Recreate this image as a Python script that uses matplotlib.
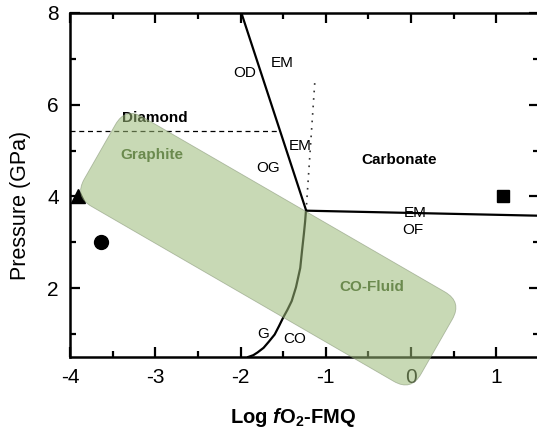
import numpy as np
import matplotlib
matplotlib.use('Agg')
import matplotlib.pyplot as plt
from matplotlib.patches import FancyBboxPatch
from matplotlib.transforms import Affine2D

plt.rcParams['font.family'] = ['Liberation Sans', 'DejaVu Sans']
plt.rcParams['axes.unicode_minus'] = False
plt.rcParams['mathtext.fontset'] = 'custom'
plt.rcParams['mathtext.rm'] = 'Liberation Sans:bold'
plt.rcParams['mathtext.it'] = 'Liberation Sans:italic:bold'
plt.rcParams['mathtext.bf'] = 'Liberation Sans:bold'

# phase boundaries (log fO2-FMQ, GPa)
em_od_x = [-1.99, -1.23]
em_od_y = [8.0, 3.69]
em_of_x = [-1.23, 1.5]
em_of_y = [3.69, 3.58]
dot_x = [-1.13, -1.23]
dot_y = [6.47, 3.72]
gd_y = 5.42
gd_xmax = -1.535
gco_x = [-1.91, -1.85, -1.80, -1.73, -1.67, -1.60, -1.55, -1.50, -1.45, -1.40,
         -1.35, -1.30, -1.28, -1.257, -1.243, -1.233]
gco_y = [0.50, 0.54, 0.60, 0.70, 0.83, 0.99, 1.17, 1.36, 1.53, 1.72,
         2.02, 2.44, 2.80, 3.19, 3.45, 3.69]

# CO-fluid band corners: lower-left, upper-left, upper-right
band_x = [-3.95, -3.35, 0.60]
band_y = [4.00, 5.95, 1.70]

# experiment points
tri_x, tri_y = -3.91, 4.02
circ_x, circ_y = -3.64, 3.0
sq_x, sq_y = 1.08, 4.0

small_labels = [('OD', -1.95, 6.69), ('EM', -1.51, 6.91), ('EM', -1.30, 5.11),
                ('OG', -1.68, 4.61), ('EM', 0.045, 3.65), ('OF', 0.02, 3.27),
                ('G', -1.74, 1.0), ('CO', -1.36, 0.89)]

fig = plt.figure(figsize=(5.37, 4.30), dpi=100)
ax = fig.add_axes([0.1304, 0.1698, 0.8733, 0.80])
ax.set_xlim(-4, 1.5)
ax.set_ylim(0.5, 8)

ax.plot(em_od_x, em_od_y, color='black', lw=1.6, zorder=2)
ax.plot(em_of_x, em_of_y, color='black', lw=1.6, zorder=2)
ax.plot(gco_x, gco_y, color='black', lw=1.6, zorder=2, solid_joinstyle='round')
ax.plot(dot_x, dot_y, color='#333333', lw=1.2, linestyle=(0, (1, 3.5)), zorder=2)
ax.plot([-4, gd_xmax], [gd_y, gd_y], color='black', lw=0.9, linestyle=(0, (4, 3)), zorder=2)

ax.plot(tri_x, tri_y, marker='^', color='black', ms=10, clip_on=False, zorder=2)
ax.plot(circ_x, circ_y, marker='o', color='black', ms=10, zorder=2)
ax.plot(sq_x, sq_y, marker='s', color='black', ms=9, zorder=4)

for s, x, y in small_labels:
    ax.text(x, y, s, fontsize=11, ha='center', va='center', zorder=4)

ax.text(-3.0, 5.70, 'Diamond', fontsize=11, fontweight='bold', ha='center', va='center', zorder=2)
ax.text(-0.14, 4.80, 'Carbonate', fontsize=11, fontweight='bold', ha='center', va='center', zorder=4)

# rounded band, built in display coords so the corners look round
pts = ax.transData.transform(np.column_stack([band_x, band_y]))
p_bl, p_tl, p_tr = pts
u = p_tr - p_tl
v = p_tl - p_bl
L = np.hypot(*u)
W = np.hypot(*v)
M = np.array([[u[0] / L, v[0] / W, p_bl[0]],
              [u[1] / L, v[1] / W, p_bl[1]],
              [0, 0, 1]])
band = FancyBboxPatch((0, 0), L, W, boxstyle='round,pad=0,rounding_size=20',
                      transform=Affine2D(M), facecolor='#9cba78', alpha=0.55,
                      edgecolor='#7f8f70', lw=0.6, clip_on=False, zorder=3)
ax.add_patch(band)

ax.text(-3.04, 4.91, 'Graphite', fontsize=11, fontweight='bold', color='#6b8a4e',
        ha='center', va='center', zorder=4)
ax.text(-0.46, 2.03, 'CO-Fluid', fontsize=11, fontweight='bold', color='#6b8a4e',
        ha='center', va='center', zorder=4)

ax.set_xticks([-4, -3, -2, -1, 0, 1])
ax.set_xticks(np.arange(-3.5, 1.6, 1.0), minor=True)
ax.set_yticks([2, 4, 6, 8])
ax.set_yticks([1, 3, 5, 7], minor=True)
ax.tick_params(which='both', direction='in', top=True, right=True, labelsize=15, width=1.6)
ax.tick_params(which='major', length=7, pad=8)
ax.tick_params(which='minor', length=4)
for sp in ax.spines.values():
    sp.set_linewidth(1.8)

ax.set_xlabel(r'Log $\mathit{f}$O$_\mathbf{2}$-FMQ', fontsize=14.5, fontweight='bold', va='center')
ax.xaxis.set_label_coords((293 - 70) / 469, -(418 - 357) / 344)
ax.set_ylabel('Pressure (GPa)', fontsize=15.5, va='center')
ax.yaxis.set_label_coords(-(70 - 20) / 469, (357 - 205) / 344)

fig.savefig('out.png', dpi=100)
